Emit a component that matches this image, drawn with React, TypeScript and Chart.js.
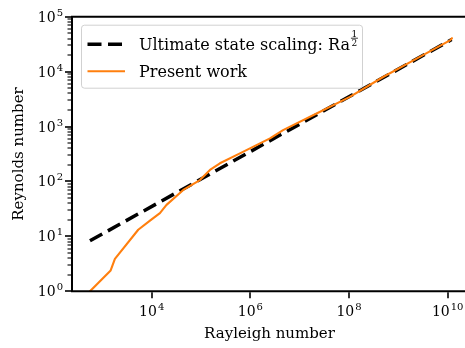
import React, { useEffect, useRef } from 'react';
import { Chart, registerables } from 'chart.js';

Chart.register(...registerables);

// ---- data ----
const rayleighPresent = [562, 1476, 1800, 5340, 9250, 14700, 20000, 43700, 95000, 152000, 242000, 615000, 2.5e6, 4.6e6, 2.2e7, 1.04e8, 4.9e8, 2.34e9, 1.11e10, 1.22e10];
const reynoldsPresent = [1.0, 2.4, 3.9, 13.2, 19.4, 26.5, 37.5, 70, 106, 162, 214, 325, 608, 861, 1730, 3460, 7980, 17200, 37000, 40600];
const rayleighUltimate = [562, 1.2e10];
const reynoldsUltimate = [8.3, 38340];

const xTickPowers = [4, 6, 8, 10];
const yTickPowers = [0, 1, 2, 3, 4, 5];
const xMin = 243;
const xMax = 2.24e10;
const yMin = 1;
const yMax = 1e5;

const xTitle = 'Rayleigh number';
const yTitle = 'Reynolds number';
const legendLabels = ['Ultimate state scaling: Ra', 'Present work'];
const legendExponent = ['1', '2'];

const SERIF = '"DejaVu Serif", serif';
const ORANGE = '#ff7f0e';

const decor = {
  id: 'decor',
  afterDraw(chart: any) {
    const ctx = chart.ctx as CanvasRenderingContext2D;
    const { left, right, top, bottom } = chart.chartArea;
    const xs = chart.scales.x;
    const ys = chart.scales.y;
    ctx.save();
    ctx.strokeStyle = '#000';
    ctx.fillStyle = '#000';

    // spines
    ctx.lineWidth = 2;
    ctx.beginPath();
    ctx.moveTo(left, top - 1);
    ctx.lineTo(left, bottom + 1);
    ctx.moveTo(left - 1, bottom);
    ctx.lineTo(right, bottom);
    ctx.moveTo(left - 1, top);
    ctx.lineTo(right, top);
    ctx.stroke();

    // y ticks (major + minor)
    for (let p = 0; p <= 5; p++) {
      for (let m = 1; m <= 9; m++) {
        const v = m * Math.pow(10, p);
        if (v > yMax) break;
        const py = Math.round(ys.getPixelForValue(v));
        ctx.lineWidth = m === 1 ? 1.6 : 1.1;
        const len = m === 1 ? 6 : 3.5;
        ctx.beginPath();
        ctx.moveTo(left - 1, py);
        ctx.lineTo(left - 1 - len, py);
        ctx.stroke();
      }
    }
    // x ticks (major only)
    ctx.lineWidth = 1.6;
    for (const p of xTickPowers) {
      const px = Math.round(xs.getPixelForValue(Math.pow(10, p)));
      ctx.beginPath();
      ctx.moveTo(px, bottom + 1);
      ctx.lineTo(px, bottom + 7);
      ctx.stroke();
    }

    // tick labels
    const baseFont = `14px ${SERIF}`;
    const expFont = `10px ${SERIF}`;
    ctx.textBaseline = 'alphabetic';
    ctx.textAlign = 'left';
    for (const p of xTickPowers) {
      const px = xs.getPixelForValue(Math.pow(10, p));
      ctx.font = baseFont;
      const w1 = ctx.measureText('10').width;
      ctx.font = expFont;
      const w2 = ctx.measureText(String(p)).width;
      const x0 = px - (w1 + w2 + 1) / 2;
      ctx.font = baseFont;
      ctx.fillText('10', x0, bottom + 25);
      ctx.font = expFont;
      ctx.fillText(String(p), x0 + w1 + 1, bottom + 19);
    }
    for (const p of yTickPowers) {
      const py = ys.getPixelForValue(Math.pow(10, p));
      ctx.font = expFont;
      const w2 = ctx.measureText(String(p)).width;
      ctx.font = baseFont;
      const w1 = ctx.measureText('10').width;
      const xr = left - 9;
      ctx.fillText('10', xr - w2 - 1 - w1, py + 5);
      ctx.font = expFont;
      ctx.fillText(String(p), xr - w2, py - 1);
    }

    // axis titles
    ctx.font = `15px ${SERIF}`;
    ctx.textAlign = 'center';
    ctx.fillText(xTitle, (left + right) / 2 + 1, 338);
    ctx.save();
    ctx.translate(23, (top + bottom) / 2);
    ctx.rotate(-Math.PI / 2);
    ctx.fillText(yTitle, 0, 0);
    ctx.restore();

    // legend
    const bx = left + 9.5, by = top + 8.5, bw = 281, bh = 63;
    ctx.beginPath();
    (ctx as any).roundRect(bx, by, bw, bh, 3);
    ctx.fillStyle = 'rgba(255,255,255,0.8)';
    ctx.fill();
    ctx.strokeStyle = 'rgba(204,204,204,0.9)';
    ctx.lineWidth = 1;
    ctx.stroke();

    const ds = chart.data.datasets;
    const rows = [top + 27.5, top + 54.5];
    for (let i = 0; i < 2; i++) {
      const d = ds[i];
      ctx.save();
      ctx.strokeStyle = d.borderColor;
      ctx.lineWidth = d.borderWidth;
      ctx.setLineDash(d.borderDash || []);
      ctx.lineCap = 'butt';
      ctx.beginPath();
      ctx.moveTo(left + 15.5, rows[i]);
      ctx.lineTo(left + 53, rows[i]);
      ctx.stroke();
      ctx.restore();
    }
    ctx.fillStyle = '#000';
    ctx.textAlign = 'left';
    ctx.textBaseline = 'alphabetic';
    ctx.font = `16px ${SERIF}`;
    const tx = left + 67;
    ctx.fillText(legendLabels[0], tx, rows[0] + 6);
    ctx.fillText(legendLabels[1], tx, rows[1] + 6);
    const wRa = ctx.measureText(legendLabels[0]).width;
    const fx = tx + wRa + 1;
    ctx.font = `9px ${SERIF}`;
    ctx.textAlign = 'center';
    ctx.fillText(legendExponent[0], fx + 3.5, rows[0] - 7.5);
    ctx.fillText(legendExponent[1], fx + 3.5, rows[0] + 2);
    ctx.lineWidth = 0.8;
    ctx.strokeStyle = '#000';
    ctx.beginPath();
    ctx.moveTo(fx, rows[0] - 6);
    ctx.lineTo(fx + 7, rows[0] - 6);
    ctx.stroke();

    ctx.restore();
  },
};

export default function App() {
  const ref = useRef<HTMLCanvasElement>(null);
  useEffect(() => {
    document.body.style.margin = '0';
    const canvas = ref.current!;
    const chart = new Chart(canvas, {
      type: 'line',
      data: {
        datasets: [
          {
            label: legendLabels[0],
            data: rayleighUltimate.map((x, i) => ({ x, y: reynoldsUltimate[i] })),
            borderColor: '#000000',
            borderWidth: 3.5,
            borderDash: [14, 6.5],
            borderCapStyle: 'butt',
            pointRadius: 0,
            fill: false,
            tension: 0,
            order: 2,
          },
          {
            label: legendLabels[1],
            data: rayleighPresent.map((x, i) => ({ x, y: reynoldsPresent[i] })),
            borderColor: ORANGE,
            borderWidth: 2.1,
            borderCapStyle: 'round',
            borderJoinStyle: 'round',
            pointRadius: 0,
            fill: false,
            tension: 0,
            order: 1,
          },
        ],
      },
      plugins: [decor],
      options: {
        animation: false,
        responsive: true,
        maintainAspectRatio: false,
        devicePixelRatio: 1,
        layout: { padding: { left: 0, right: 0, top: 16.7, bottom: 0 } },
        plugins: { legend: { display: false }, tooltip: { enabled: false } },
        scales: {
          x: {
            type: 'logarithmic',
            min: xMin,
            max: xMax,
            grid: { display: false },
            border: { display: false },
            ticks: { display: false },
            afterFit: (s: any) => { s.height = 56.7; },
          },
          y: {
            type: 'logarithmic',
            min: yMin,
            max: yMax,
            grid: { display: false },
            border: { display: false },
            ticks: { display: false },
            afterFit: (s: any) => { s.width = 72; },
          },
        },
      } as any,
    });
    return () => chart.destroy();
  }, []);
  return (
    <div style={{ position: 'fixed', left: 0, top: 0, width: 465, height: 348 }}>
      <canvas ref={ref} />
    </div>
  );
}
